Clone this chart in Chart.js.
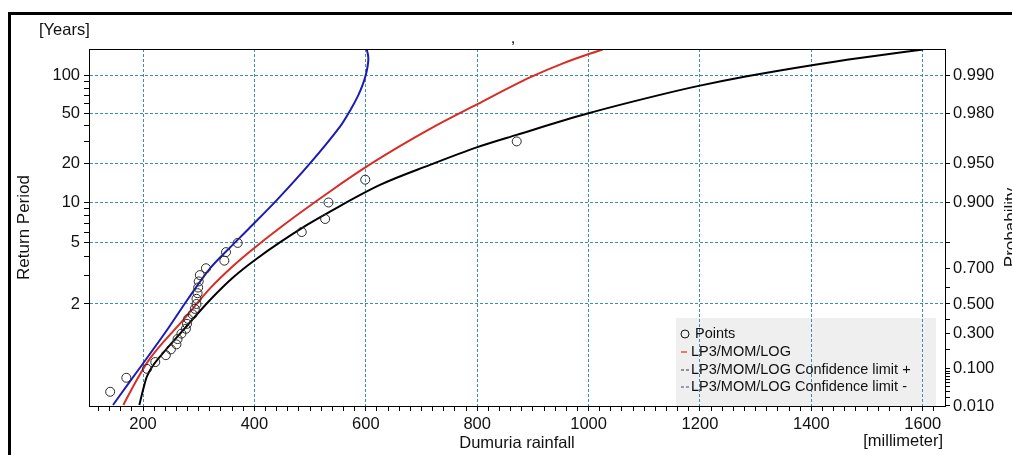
<!DOCTYPE html>
<html>
<head>
<meta charset="utf-8">
<title>Dumuria rainfall frequency</title>
<script src="https://cdn.jsdelivr.net/npm/chart.js@4.4.1/dist/chart.umd.min.js"></script>
<style>
    html, body { margin: 0; padding: 0; background: #fff; overflow: hidden; }
    #wrap { position: relative; width: 1012px; height: 455px; }
</style>
</head>
<body>
<div id="wrap"><canvas id="freqChart"></canvas></div>
<script>
// observed values (rainfall in mm, return period in years)
const pointRain   = [871, 599, 533, 527, 485, 370, 349, 346, 313, 302, 300, 299, 298, 296, 296, 293, 289, 281, 279, 277, 269, 262, 260, 250, 241, 222, 207, 170, 141];
const pointPeriod = [30, 15, 10, 7.5, 6, 5, 4.3, 3.75, 3.33, 3, 2.73, 2.5, 2.31, 2.14, 2, 1.88, 1.76, 1.67, 1.58, 1.5, 1.43, 1.36, 1.3, 1.25, 1.2, 1.15, 1.11, 1.07, 1.03];

// LP3/MOM/LOG fitted curve
const fitRain   = [164.6, 188.7, 212.6, 272.3, 320.3, 361.6, 392.1, 451.3, 535.7, 607.5, 715.3, 799.6, 894.8, 954, 1025.8];
const fitPeriod = [1.011, 1.062, 1.175, 1.649, 2.469, 3.449, 4.35, 6.71, 12.16, 19.74, 37.7, 59.1, 97.2, 126.1, 163.9];

// confidence limit + (black)
const upperRain   = [193.4, 200, 206.6, 216.2, 230.5, 272.3, 320.3, 361.6, 404.7, 494.4, 535.7, 625.5, 715.3, 799.1, 870.9, 999.5, 1128.2, 1200, 1284.4, 1401, 1487, 1600.9];
const upperPeriod = [1.011, 1.034, 1.073, 1.12, 1.188, 1.482, 2.108, 2.896, 3.885, 6.77, 8.52, 13.65, 19.57, 26.9, 33.8, 50.2, 70.5, 83.6, 99.4, 122, 139.4, 163.2];

// confidence limit - (blue)
const lowerRain   = [146.1, 173.1, 200, 243.1, 281.3, 320.3, 356.2, 386.7, 440.6, 499.8, 553.7, 573.4, 586, 595, 601.3, 604.5, 604, 601.7];
const lowerPeriod = [1.011, 1.049, 1.141, 1.482, 2.15, 3.32, 4.64, 6.16, 10.47, 20.1, 39.3, 54.4, 69.2, 86.3, 107.7, 132.1, 147.3, 163.2];

// axes
const xLabels = [200, 400, 600, 800, 1000, 1200, 1400, 1600];
const xMin = 103, xMax = 1640, xMinorStep = 20;
const periodTicks = [2, 5, 10, 20, 50, 100];
const periodMinor = [3, 4, 6, 7, 8, 9, 30, 40, 60, 70, 80, 90];
const probTicks = [0.01, 0.1, 0.3, 0.5, 0.7, 0.9, 0.95, 0.98, 0.99];
const probMinor = [0.02, 0.03, 0.04, 0.05, 0.06, 0.07, 0.08, 0.09, 0.2, 0.4, 0.6, 0.8];
const periodMin = 1.0101, periodMax = 164.5;

const FONT = "'Liberation Sans', Arial, sans-serif";
const TEXT = '#111';
const GRID_BLUE = '#3d8db2';
const CLEAR = 'rgba(0,0,0,0)';

Chart.defaults.font.family = FONT;

// Gumbel probability paper: reduced variate -ln(-ln p)
const reduced = p => -Math.log(-Math.log(p));

class GumbelScale extends Chart.Scale {
    static id = 'gumbel';
    static defaults = {};

    toProb(v) {
        return this.options.asPeriod ? 1 - 1 / v : v;
    }
    determineDataLimits() {
        this.min = this.options.min;
        this.max = this.options.max;
    }
    buildTicks() {
        const major = (this.options.majorValues || []).map(v => ({ value: v }));
        const minor = (this.options.minorValues || []).map(v => ({ value: v, minor: true }));
        return major.concat(minor).sort((a, b) => a.value - b.value);
    }
    configure() {
        super.configure();
        this._gStart = reduced(this.toProb(this.min));
        this._gRange = reduced(this.toProb(this.max)) - this._gStart;
    }
    getPixelForValue(value) {
        return this.getPixelForDecimal((reduced(this.toProb(value)) - this._gStart) / this._gRange);
    }
    getValueForPixel(pixel) {
        const g = this._gStart + this.getDecimalForPixel(pixel) * this._gRange;
        const p = Math.exp(-Math.exp(-g));
        return this.options.asPeriod ? 1 / (1 - p) : p;
    }
    getLabelForValue(value) {
        return String(value);
    }
}
Chart.register(GumbelScale);

function pairs(xs, ys) {
    return xs.map((x, i) => ({ x: x, y: ys[i] }));
}

// frame, extra labels and the in-plot legend
const decorPlugin = {
    id: 'decor',
    beforeDraw(chart) {
        const ctx = chart.ctx;
        const area = chart.chartArea;
        ctx.save();
        ctx.fillStyle = '#000';
        ctx.fillRect(8, 12, 3, 450);
        ctx.fillRect(8, 12, 1010, 3);
        // legend background (grid lines go over it)
        ctx.fillStyle = '#efefef';
        ctx.fillRect(676, 318, 260, area.bottom - 318);
        ctx.restore();
    },
    afterDraw(chart) {
        const ctx = chart.ctx;
        const area = chart.chartArea;
        ctx.save();
        ctx.strokeStyle = '#000';
        ctx.lineWidth = 1;
        ctx.beginPath();
        ctx.moveTo(area.left, Math.round(area.top) + 0.5);
        ctx.lineTo(area.right, Math.round(area.top) + 0.5);
        ctx.stroke();

        ctx.fillStyle = TEXT;
        ctx.font = '16.5px ' + FONT;
        ctx.textBaseline = 'middle';
        ctx.textAlign = 'left';
        ctx.fillText('[Years]', 39, 30);
        ctx.textAlign = 'right';
        ctx.fillText('[millimeter]', 943, 441);
        ctx.textAlign = 'center';
        ctx.textBaseline = 'alphabetic';
        ctx.fillText(',', 513, 43);

        ctx.save();
        ctx.font = '17px ' + FONT;
        ctx.translate(1011, (area.top + area.bottom) / 2);
        ctx.rotate(-Math.PI / 2);
        ctx.textBaseline = 'middle';
        ctx.fillText('Probability', 0, 0);
        ctx.restore();

        // legend entries
        const rows = [334, 352, 370, 387];
        ctx.font = '14.5px ' + FONT;
        ctx.textAlign = 'left';
        ctx.textBaseline = 'middle';
        chart.data.datasets.forEach((ds, i) => {
            const y = rows[i];
            ctx.strokeStyle = ds.legendColor;
            ctx.lineWidth = 1;
            if (i === 0) {
                ctx.beginPath();
                ctx.arc(685, y, 4, 0, Math.PI * 2);
                ctx.stroke();
                ctx.fillStyle = TEXT;
                ctx.fillText(ds.label, 695, y);
            } else {
                ctx.beginPath();
                if (i === 1) {
                    ctx.lineWidth = 1.5;
                    ctx.moveTo(681, y);
                    ctx.lineTo(687, y);
                } else {
                    ctx.moveTo(681, y);
                    ctx.lineTo(684, y);
                    ctx.moveTo(686, y);
                    ctx.lineTo(689, y);
                }
                ctx.stroke();
                ctx.fillStyle = TEXT;
                ctx.fillText(ds.label, 691, y);
            }
        });
        ctx.restore();
    }
};

const tickFont = { family: FONT, size: 16.5 };
const titleFont = { family: FONT, size: 17 };

new Chart(document.getElementById('freqChart'), {
    type: 'scatter',
    data: {
        datasets: [
            {
                label: 'Points',
                data: pairs(pointRain, pointPeriod),
                pointRadius: 4.5,
                pointHoverRadius: 4.5,
                pointBorderWidth: 1,
                pointBorderColor: '#2a2a2a',
                pointBackgroundColor: CLEAR,
                legendColor: '#111',
                order: 0
            },
            {
                label: 'LP3/MOM/LOG',
                data: pairs(fitRain, fitPeriod),
                showLine: true,
                pointRadius: 0,
                borderColor: '#d82c24',
                borderWidth: 2,
                cubicInterpolationMode: 'monotone',
                legendColor: '#e05050',
                order: 1
            },
            {
                label: 'LP3/MOM/LOG Confidence limit +',
                data: pairs(upperRain, upperPeriod),
                showLine: true,
                pointRadius: 0,
                borderColor: '#000',
                borderWidth: 2,
                cubicInterpolationMode: 'monotone',
                legendColor: '#333',
                order: 2
            },
            {
                label: 'LP3/MOM/LOG Confidence limit -',
                data: pairs(lowerRain, lowerPeriod),
                showLine: true,
                pointRadius: 0,
                borderColor: '#1c1cb4',
                borderWidth: 2,
                tension: 0.3,
                legendColor: '#404090',
                order: 3
            }
        ]
    },
    options: {
        responsive: true,
        maintainAspectRatio: false,
        animation: false,
        events: [],
        layout: { padding: { top: 49, left: 0, right: 0, bottom: 0 } },
        plugins: {
            legend: { display: false },
            tooltip: { enabled: false },
            title: { display: false }
        },
        scales: {
            x: {
                type: 'linear',
                position: 'bottom',
                min: xMin,
                max: xMax,
                afterBuildTicks: scale => {
                    const ticks = [];
                    for (let v = 120; v <= 1620; v += xMinorStep) ticks.push({ value: v });
                    scale.ticks = ticks;
                },
                afterFit: scale => { scale.height = 49; },
                ticks: {
                    autoSkip: false,
                    maxRotation: 0,
                    padding: 4,
                    color: TEXT,
                    font: tickFont,
                    callback: v => xLabels.includes(v) ? String(v) : ''
                },
                grid: {
                    color: ctx => (ctx.tick && xLabels.includes(ctx.tick.value)) ? GRID_BLUE : CLEAR,
                    tickColor: '#000',
                    tickLength: 5,
                    lineWidth: 1
                },
                border: { display: true, color: '#000', width: 1, dash: [3, 2] },
                title: {
                    display: true,
                    text: 'Dumuria rainfall',
                    color: TEXT,
                    font: tickFont,
                    padding: { top: 0, bottom: 2 }
                }
            },
            y: {
                type: 'gumbel',
                position: 'left',
                asPeriod: true,
                min: periodMin,
                max: periodMax,
                majorValues: periodTicks,
                minorValues: periodMinor,
                afterFit: scale => { scale.width = 89; },
                ticks: {
                    autoSkip: false,
                    padding: 4,
                    color: TEXT,
                    font: tickFont,
                    callback: (v, i, ticks) => ticks[i].minor ? '' : String(v)
                },
                grid: {
                    color: ctx => (ctx.tick && ctx.tick.minor) ? CLEAR : GRID_BLUE,
                    tickColor: '#000',
                    tickLength: 5,
                    lineWidth: 1
                },
                border: { display: true, color: '#000', width: 1, dash: [3, 2] },
                title: {
                    display: true,
                    text: 'Return Period',
                    color: TEXT,
                    font: titleFont,
                    padding: { top: 14, bottom: 0 }
                }
            },
            yProb: {
                type: 'gumbel',
                position: 'right',
                asPeriod: false,
                min: 1 - 1 / periodMin,
                max: 1 - 1 / periodMax,
                majorValues: probTicks,
                minorValues: probMinor,
                afterFit: scale => { scale.width = 67; },
                ticks: {
                    autoSkip: false,
                    padding: 3,
                    color: TEXT,
                    font: tickFont,
                    callback: (v, i, ticks) => ticks[i].minor ? '' : v.toFixed(3)
                },
                grid: {
                    drawOnChartArea: false,
                    tickColor: '#000',
                    tickLength: 5
                },
                border: { display: true, color: '#000', width: 1 }
            }
        }
    },
    plugins: [decorPlugin]
});
</script>
</body>
</html>
